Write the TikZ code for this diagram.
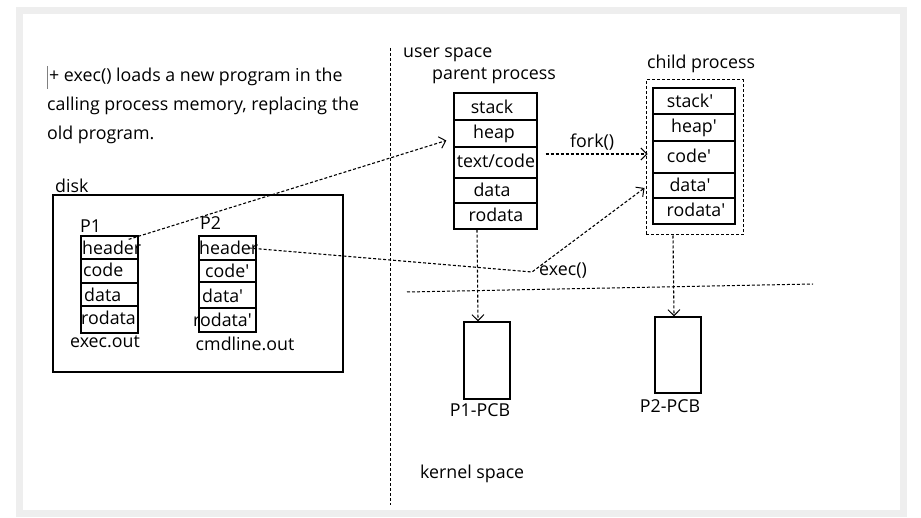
\documentclass[tikz,border=0pt]{standalone}
\usepackage{fontspec}
\setmainfont{Open Sans}
\usetikzlibrary{arrows.meta,calc}
\definecolor{framegray}{RGB}{238,238,238}
\newcommand\sq{\textquotesingle}
\tikzset{
  cell/.style={draw,line width=1.3pt,minimum width=#1,inner sep=0pt},
  txt/.style={inner sep=0pt,font=\fontsize{17.8}{20}\selectfont},
  dline/.style={line width=1.1pt,dash pattern=on 3pt off 2pt},
  darr/.style={dline,-{Straight Barb[length=6pt,width=12pt,line width=1pt]}},
}
\begin{document}
\begin{tikzpicture}[x=1pt,y=-1pt]
\useasboundingbox (0,0) rectangle (921,518);
\draw[framegray,line width=6.5pt] (19.5,10.5) rectangle (903.5,513.5);

% note text
\node[txt,anchor=west] (t1) at (49,77) {+ exec() loads a new program in the};
\node[txt,anchor=west] (t2) at (47,106) {calling process memory, replacing the};
\node[txt,anchor=west] (t3) at (47,135) {old program.};
\draw[gray,line width=0.8pt] (47.5,66) -- (47.5,89);

% disk
\node[txt,anchor=west] (disk) at (55,186) {disk};
\node[draw,line width=1.3pt,minimum width=290pt,minimum height=177pt,inner sep=0pt] (diskbox) at (198,283.5) {};

% P1
\node[txt,anchor=west] (p1lab) at (80,226) {P1};
\node[cell=57pt,minimum height=23pt] (p1h) at (109.5,247.5) {};
\node[cell=57pt,minimum height=24pt] (p1c) at (109.5,271) {};
\node[cell=57pt,minimum height=23pt] (p1d) at (109.5,294.5) {};
\node[cell=57pt,minimum height=27pt] (p1r) at (109.5,319.5) {};
\node[txt,anchor=west] at (82,247.5) {header};
\node[txt,anchor=west] at (83,270) {code};
\node[txt,anchor=west] at (84,294.5) {data};
\node[txt,anchor=west] at (81,318) {rodata};
\node[txt] (p1name) at (105,342) {exec.out};

% P2
\node[txt,anchor=west] (p2lab) at (200,223) {P2};
\node[cell=57pt,minimum height=24pt] (p2h) at (227.5,248) {};
\node[cell=57pt,minimum height=22pt] (p2c) at (227.5,271) {};
\node[cell=57pt,minimum height=26pt] (p2d) at (227.5,295) {};
\node[cell=57pt,minimum height=24pt] (p2r) at (227.5,320) {};
\node[txt,anchor=west] at (199,247.5) {header};
\node[txt,anchor=west] at (205,271) {code\sq};
\node[txt,anchor=west] at (202,295.5) {data\sq};
\node[txt,anchor=west] at (193,320) {rodata\sq};
\node[txt] (p2name) at (245,344) {cmdline.out};

% space separators
\coordinate (vtop) at (390,48);
\coordinate (vbot) at (390,505);
\draw[dline,line width=1pt] (vtop) -- (vbot);
\coordinate (hl) at (407,292);
\coordinate (hr) at (813,284);
\draw[dline,line width=1pt] (hl) -- (hr);
\node[txt,anchor=west] (us) at (403,55) {user space};
\node[txt,anchor=west] (ks) at (420,474) {kernel space};

% parent process
\node[txt,anchor=west] (pplab) at (432,76) {parent process};
\node[cell=83pt,minimum height=27pt] (pst) at (495.5,106.5) {};
\node[cell=83pt,minimum height=27pt] (phe) at (495.5,133.5) {};
\node[cell=83pt,minimum height=31pt] (ptx) at (495.5,162.5) {};
\node[cell=83pt,minimum height=25pt] (pda) at (495.5,190.5) {};
\node[cell=83pt,minimum height=26pt] (pro) at (495.5,216) {};
\node[txt] at (492,106.5) {stack};
\node[txt] at (494,133.5) {heap};
\node[txt] at (496,161) {text/code};
\node[txt] at (492,190) {data};
\node[txt] at (496,215) {rodata};

% child process
\node[txt,anchor=west] (cplab) at (647,64) {child process};
\node[draw,dline,line width=1pt,minimum width=97pt,minimum height=155pt,inner sep=0pt] (cbox) at (694.5,157.5) {};
\node[cell=82pt,minimum height=26pt] (cst) at (694,101) {};
\node[cell=82pt,minimum height=27pt] (che) at (694,127.5) {};
\node[cell=82pt,minimum height=32pt] (ccd) at (694,157) {};
\node[cell=82pt,minimum height=25pt] (cda) at (694,185.5) {};
\node[cell=82pt,minimum height=26pt] (cro) at (694,211) {};
\node[txt] at (690,101) {stack\sq};
\node[txt] at (694,128) {heap\sq};
\node[txt] at (689,156) {code\sq};
\node[txt] at (690,185) {data\sq};
\node[txt] at (696,210) {rodata\sq};

% PCBs
\node[draw,line width=1.3pt,minimum width=46pt,minimum height=77pt,inner sep=0pt] (pcb1) at (487,360.5) {};
\node[draw,line width=1.3pt,minimum width=46pt,minimum height=76pt,inner sep=0pt] (pcb2) at (678,355) {};
\node[txt] (pcb1lab) at (480,410) {P1-PCB};
\node[txt] (pcb2lab) at (670,406) {P2-PCB};

% connectors
\coordinate (a1s) at ($(p1h.north east)+(-10,4)$);
\coordinate (a1e) at ($(phe.west)+(-7,7)$);
\draw[darr] (a1s) -- (a1e);

\coordinate (fks) at ($(ptx.east)+(8,-8.5)$);
\coordinate (fke) at ($(cbox.west)+(2,-3.5)$);
\draw[darr] (fks) -- (fke);
\node[txt,anchor=west] (forklab) at (570,142) {fork()};

\coordinate (exs) at ($(p2h.east)+(-8,0)$);
\coordinate (exc) at (532,272);
\coordinate (exe) at ($(cbox.west)+(-1,30.5)$);
\draw[darr] (exs) -- (exc) -- (exe);
\node[txt,anchor=west] (execlab) at (539,271) {exec()};

\draw[darr] (pro.south -| 477,0) -- (pcb1.north -| 478,0);
\draw[darr] (cbox.south -| 673,0) -- (pcb2.north -| 674,0);
\end{tikzpicture}
\end{document}
